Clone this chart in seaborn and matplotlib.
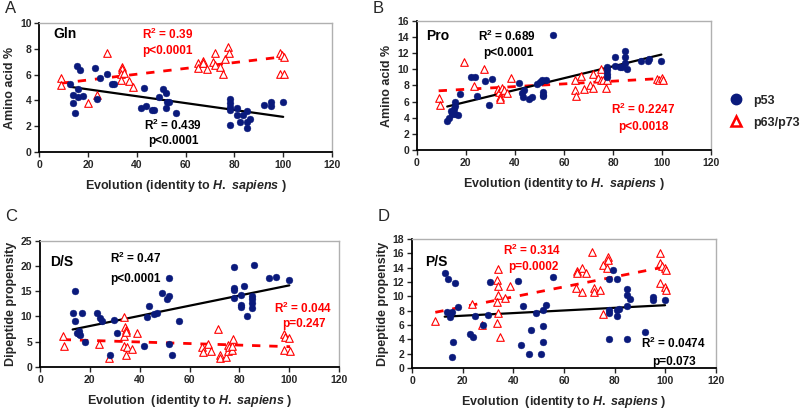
import matplotlib
matplotlib.use("Agg")
import matplotlib.pyplot as plt
import seaborn as sns
import pandas as pd
from matplotlib.lines import Line2D

sns.set_style("white")
plt.rcParams['font.family'] = ['Liberation Sans', 'DejaVu Sans']
plt.rcParams['font.weight'] = 'bold'
plt.rcParams['mathtext.fontset'] = 'custom'
plt.rcParams['mathtext.rm'] = 'Liberation Sans:bold'
plt.rcParams['mathtext.bf'] = 'Liberation Sans:bold'
plt.rcParams['mathtext.it'] = 'Liberation Sans:italic:bold'

NAVY = '#0a1a7c'
RED = '#ff0000'

# ---------------- Panel A (Gln) ----------------
a_p53_x = [12.7, 15.5, 16.6, 13.7, 13.7, 14.8, 15.7, 15.7, 17.8, 22.7, 23.7, 25, 27.8, 29.8, 30.8,
           43, 41.9, 43.8, 46.2, 47.2, 49, 50.8, 51.8, 51.8, 52.4, 53.3, 56.1,
           78, 78, 78, 78, 78, 81.1, 81.1, 82.2, 83.4, 85.2, 85.2, 85.2, 86.3, 92, 95, 95, 100]
a_p53_y = [5.27, 6.7, 6.35, 4.4, 3.8, 3.0, 4.85, 4.25, 4.35, 6.5, 4.1, 5.7, 6.05, 5.27, 5.3,
           4.95, 3.45, 3.55, 3.25, 3.25, 4.3, 4.85, 4.55, 3.4, 3.9, 3.9, 3.0,
           4.1, 3.8, 3.5, 3.25, 2.1, 3.45, 2.9, 2.3, 2.9, 3.2, 2.3, 1.85, 2.6, 3.65, 3.85, 3.55, 3.85]
a_p63_x = [9, 8.8, 19.8, 23.7, 27.8, 34, 34, 33.7, 33.7, 34.6, 36.7, 38.4,
           65, 65, 67, 67.2, 68.8, 71.1, 72.2, 72.2, 74.3, 75.4, 76.3, 77.4, 77.7,
           98.5, 99.6, 100.5, 98.5, 100.5]
a_p63_y = [5.7, 5.2, 3.8, 4.4, 7.65, 6.6, 6.4, 6.05, 5.6, 6.1, 5.5, 5.05,
           6.9, 6.5, 7.05, 6.9, 6.4, 7.0, 7.65, 6.75, 6.6, 6.05, 7.2, 8.15, 7.7,
           7.65, 7.5, 7.4, 6.05, 6.05]

# ---------------- Panel B (Pro) ----------------
b_p53_x = [12.4, 13.1, 13.8, 14.5, 15.1, 15.4, 15.7, 15.4, 16.8, 17.7, 22.2, 23.6, 24.6, 27.7, 29.5, 30.5,
           41.7, 42.7, 43.4, 43.8, 45.7, 46.8, 48.8, 50.2, 50.9, 51.6, 51.6, 51.6, 52.5, 55.7,
           77.5, 77.5, 77.5, 77.5, 80.6, 80.9, 82.7, 83.6, 84.7, 84.7, 84.7, 85.7, 91.5, 94.1, 94.5, 99.7]
b_p53_y = [3.6, 4.0, 4.9, 4.5, 5.1, 5.95, 5.4, 4.5, 4.4, 6.9, 9.0, 9.1, 6.65, 8.55, 5.6, 8.85,
           8.35, 7.1, 6.6, 7.4, 6.35, 6.6, 8.2, 8.45, 8.65, 7.2, 6.85, 6.65, 8.65, 14.3,
           10.3, 9.9, 9.45, 9.05, 11.55, 10.4, 10.3, 10.3, 12.25, 11.55, 10.8, 10.1, 11.05, 11.0, 11.3, 11.05]
b_p63_x = [8.9, 9.4, 19.2, 23.3, 27.4, 33.2, 33.6, 33.8, 34.1, 34.9, 35.5, 36.6, 38.2,
           64.3, 64.8, 64.5, 66.8, 68.3, 70.7, 71.7, 71.7, 73.7, 75, 75, 76.1, 77.1, 77.7,
           98, 98.6, 100, 100.3]
b_p63_y = [6.5, 5.55, 10.9, 7.95, 10.1, 7.6, 7.2, 6.6, 6.35, 7.75, 7.4, 7.1, 8.9,
           7.4, 6.65, 8.65, 9.15, 7.6, 8.0, 9.45, 7.75, 8.95, 10.1, 8.65, 8.7, 7.75, 8.65,
           8.85, 8.7, 8.95, 8.65]

# ---------------- Panel C (D/S) ----------------
c_p53_x = [13.1, 14.0, 14.0, 15.0, 15.8, 16.0, 15.6, 16.7, 18.0, 23.0, 24.1, 25.0, 28.1, 29.8, 30.7,
           41.8, 43.0, 43.9, 45.9, 46.8, 48.8, 50.8, 51.9, 51.9, 51.9, 52.8, 55.9,
           77.8, 77.8, 77.8, 77.8, 80.6, 80.6, 80.6, 81.9, 82.9, 84.9, 84.9, 84.9, 84.9, 86.0, 92.0, 94.7, 100]
c_p53_y = [10.6, 15.1, 9.05, 6.75, 6.6, 6.3, 7.1, 10.7, 4.95, 10.7, 9.6, 9.1, 2.3, 9.4, 6.75,
           4.15, 9.9, 12.1, 10.4, 10.6, 14.75, 13.4, 14.0, 17.7, 4.6, 2.3, 9.05,
           19.8, 15.7, 15.3, 13.7, 14.2, 12.2, 11.8, 16.0, 10.1, 14.1, 13.4, 12.7, 11.6, 20.2, 17.7, 17.9, 17.2]
c_p63_x = [9.1, 9.8, 23.7, 27.8, 33.7, 33.7, 33.7, 34.1, 34.4, 34.4, 34.4, 35.0, 37.0, 38.8,
           65.1, 65.2, 67.5, 68.6, 71.3, 72.0, 72.2, 74.5, 75.3, 75.5, 75.9, 76.9, 77.1, 77.5,
           97.8, 98.3, 100, 98.0, 100.3]
c_p63_y = [6.15, 4.1, 4.5, 1.85, 9.9, 6.1, 4.15, 8.0, 7.4, 6.95, 2.45, 3.95, 3.5, 6.75,
           3.95, 3.0, 4.5, 3.2, 7.6, 2.3, 1.85, 2.0, 3.2, 4.4, 3.95, 3.4, 4.15, 5.6,
           6.5, 5.9, 5.7, 3.4, 3.2]

# ---------------- Panel D (P/S) ----------------
d_p53_x = [12.9, 14.1, 13.8, 14.9, 15.8, 14.9, 16.0, 15.8, 17.0, 18.3, 22.7, 23.9, 25.0, 28.0, 30.0, 30.9,
           41.8, 43.1, 44.0, 46.0, 46.9, 49.0, 50.9, 51.9, 51.9, 51.9, 52.8, 55.8,
           77.8, 77.8, 77.8, 77.8, 79.2, 80.8, 80.8, 80.8, 81.9, 85.0, 85.0, 85.0, 85.0, 86.1, 92.0, 95.0, 95.0, 99.9]
d_p53_y = [13.3, 12.4, 7.85, 7.6, 7.85, 7.15, 3.65, 1.55, 11.8, 8.45, 4.8, 4.35, 7.25, 6.0, 7.45, 12.05,
           12.15, 3.25, 8.7, 2.0, 5.25, 7.7, 2.0, 5.85, 3.65, 8.05, 8.85, 12.65,
           12.35, 7.7, 8.15, 4.1, 13.65, 12.35, 8.15, 7.3, 8.3, 10.95, 10.15, 8.65, 4.1, 9.6, 5.05, 9.95, 9.45, 9.55]
d_p63_x = [9.2, 23.7, 27.6, 33.5, 33.8, 33.8, 33.8, 33.5, 33.8, 33.5, 34.8, 36.8, 38.5,
           64.7, 65.0, 65.3, 67.0, 67.3, 68.7, 71.0, 71.9, 71.9, 74.2, 75.2, 75.3, 76.9, 77.5, 77.5,
           97.9, 97.9, 98.6, 97.9, 99.9, 100.3, 99.9, 100.3]
d_p63_y = [6.55, 8.9, 5.95, 12.25, 11.4, 13.75, 10.15, 9.25, 7.7, 6.3, 4.35, 9.7, 11.4,
           11.1, 13.5, 13.3, 14.0, 10.65, 13.3, 16.1, 11.1, 10.65, 10.9, 7.6, 14.35, 13.9, 15.45, 15.05,
           16.0, 14.6, 14.2, 11.8, 13.9, 13.65, 11.35, 10.85]

xticks = [0, 20, 40, 60, 80, 100, 120]

panels = [
    dict(key='A', pos=[0.049, 0.628, 0.366, 0.316], p53=(a_p53_x, a_p53_y), p63=(a_p63_x, a_p63_y),
         ylim=10, ystep=2, ylabel='Amino acid %', name='Gln', name_xy=(6, 8.85),
         xlabel=r'Evolution (identity to $\mathit{H.\ sapiens}$ )',
         texts=[(42, 8.75, 'R$^{2}$ = 0.39', RED, 'left'), (42, 7.6, 'p<0.0001', RED, 'left'),
                (55, 1.75, 'R$^{2}$ = 0.439', 'black', 'center'), (55, 0.6, 'p<0.0001', 'black', 'center')],
         letter_xy=(0.006, 0.997)),
    dict(key='B', pos=[0.521, 0.633, 0.368, 0.316], p53=(b_p53_x, b_p53_y), p63=(b_p63_x, b_p63_y),
         ylim=16, ystep=2, ylabel='Amino acid %', name='Pro', name_xy=(4, 13.6),
         xlabel=r'Evolution (identity to $\mathit{H.\ sapiens}$ )',
         texts=[(25, 13.5, 'R$^{2}$ = 0.689', 'black', 'left'), (27, 11.6, 'p<0.0001', 'black', 'left'),
                (79, 4.5, 'R$^{2}$ = 0.2247', RED, 'left'), (82, 2.5, 'p<0.0018', RED, 'left')],
         letter_xy=(0.466, 0.997)),
    dict(key='C', pos=[0.050, 0.103, 0.374, 0.308], p53=(c_p53_x, c_p53_y), p63=(c_p63_x, c_p63_y),
         ylim=25, ystep=5, ylabel='Dipeptide propensity', name='D/S', name_xy=(4, 20.1),
         xlabel=r'Evolution  (identity to $\mathit{H.\ sapiens}$ )',
         texts=[(28, 20.6, 'R$^{2}$ = 0.47', 'black', 'left'), (28, 16.8, 'p<0.0001', 'black', 'left'),
                (94, 10.7, 'R$^{2}$ = 0.044', RED, 'left'), (97, 8.0, 'p=0.247', RED, 'left')],
         letter_xy=(0.006, 0.488)),
    dict(key='D', pos=[0.515, 0.100, 0.380, 0.316], p53=(d_p53_x, d_p53_y), p63=(d_p63_x, d_p63_y),
         ylim=18, ystep=2, ylabel='Dipeptide propensity', name='P/S', name_xy=(5, 14.2),
         xlabel=r'Evolution  (identity to $\mathit{H.\ sapiens}$ )',
         texts=[(36, 15.8, 'R$^{2}$ = 0.314', RED, 'left'), (38, 13.6, 'p=0.0002', RED, 'left'),
                (90.5, 2.8, 'R$^{2}$ = 0.0474', 'black', 'left'), (95, 0.5, 'p=0.073', 'black', 'left')],
         letter_xy=(0.472, 0.488)),
]

fig = plt.figure(figsize=(8, 4.09), dpi=100)

for p in panels:
    ax = fig.add_axes(p['pos'])
    df53 = pd.DataFrame({'x': p['p53'][0], 'y': p['p53'][1]})
    df63 = pd.DataFrame({'x': p['p63'][0], 'y': p['p63'][1]})
    sns.regplot(data=df63, x='x', y='y', ax=ax, scatter=False, ci=None,
                line_kws=dict(color=RED, lw=2.0, ls=(0, (3, 3.2))))
    sns.regplot(data=df53, x='x', y='y', ax=ax, scatter=False, ci=None,
                line_kws=dict(color='black', lw=1.6))
    sns.scatterplot(data=df53, x='x', y='y', ax=ax, color=NAVY, marker='o', s=24,
                    edgecolor=NAVY, linewidth=0.3, zorder=3)
    sns.scatterplot(data=df63, x='x', y='y', ax=ax, marker='^', s=30,
                    facecolor='white', edgecolor=RED, linewidth=0.8, zorder=2)
    ax.set_xlim(0, 120)
    ax.set_ylim(0, p['ylim'])
    ax.set_xticks(xticks)
    ax.set_yticks(list(range(0, p['ylim'] + 1, p['ystep'])))
    ax.tick_params(axis='both', direction='out', length=3.5, width=1.0, labelsize=7.5,
                   left=True, bottom=True, pad=2)
    for lab in ax.get_xticklabels() + ax.get_yticklabels():
        lab.set_fontweight('bold')
    for s in ['left', 'bottom']:
        ax.spines[s].set_color('black')
        ax.spines[s].set_linewidth(1.3)
    for s in ['top', 'right']:
        ax.spines[s].set_color('#b0b0b0')
        ax.spines[s].set_linewidth(1.0)
    ax.set_xlabel(p['xlabel'], fontsize=9, fontweight='bold', labelpad=6)
    ax.set_ylabel(p['ylabel'], fontsize=9, fontweight='bold', labelpad=3)
    ax.text(p['name_xy'][0], p['name_xy'][1], p['name'], fontsize=10, fontweight='bold', color='black')
    for (tx, ty, t, c, ha) in p['texts']:
        ax.text(tx, ty, t, fontsize=8.5, fontweight='bold', color=c, ha=ha, clip_on=False)
    fig.text(p['letter_xy'][0], p['letter_xy'][1], p['key'], fontsize=12, fontweight='normal',
             va='top', ha='left')

handles = [Line2D([], [], ls='none', marker='o', markersize=7.5, color=NAVY, markeredgecolor=NAVY),
           Line2D([], [], ls='none', marker='^', markersize=7.5, markerfacecolor='white',
                  markeredgecolor=RED, markeredgewidth=1.8)]
fig.legend(handles, ['p53', 'p63/p73'], loc='center left', bbox_to_anchor=(0.89, 0.727),
           frameon=False, handletextpad=0.4, labelspacing=0.8,
           prop={'weight': 'bold', 'size': 9})

fig.savefig('out.png', dpi=100)
